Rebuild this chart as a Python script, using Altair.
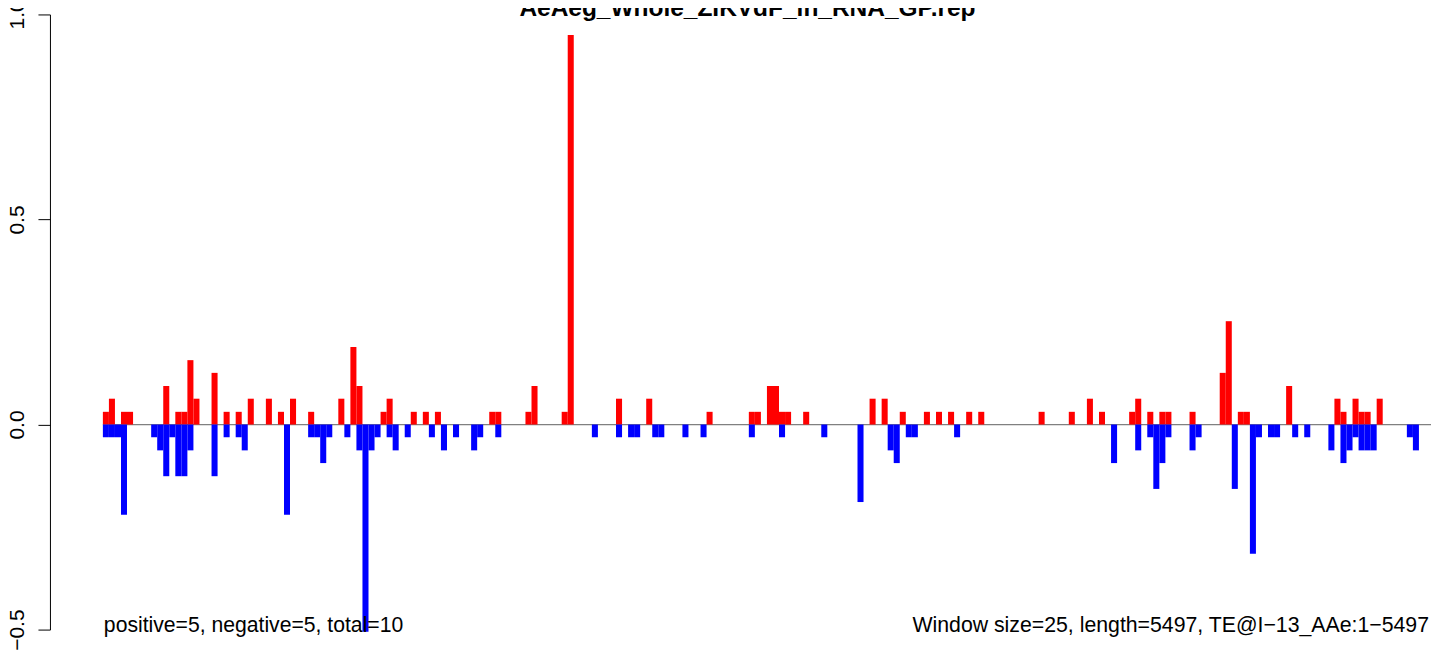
import altair as alt
import pandas as pd

title_text = "AeAeg_Whole_ZIKVdF_in_RNA_GP.rep"
left_note = "positive=5, negative=5, total=10"
right_note = "Window size=25, length=5497, TE@I\u221213_AAe:1\u22125497"
n_windows = 220
y_ticks = [-0.5, 0.0, 0.5, 1.0]

pos_idx = [0, 1, 3, 4, 10, 12, 13, 14, 15, 18, 20, 22, 24, 27, 29, 31, 34, 39, 41, 42,
           46, 47, 51, 53, 55, 64, 65, 70, 71, 76, 77, 85, 90, 100, 107, 108, 110, 111, 112, 113,
           116, 127, 129, 132, 136, 138, 140, 143, 145, 155, 160, 163, 165, 170, 171, 173, 175, 176, 180, 185,
           186, 188, 189, 196, 204, 205, 207, 208, 209, 211]
pos_val = [0.031, 0.063, 0.031, 0.031, 0.094, 0.031, 0.031, 0.157, 0.063, 0.126,
           0.031, 0.031, 0.063, 0.063, 0.031, 0.063, 0.031, 0.063, 0.189, 0.094,
           0.031, 0.063, 0.031, 0.031, 0.031, 0.031, 0.031, 0.031, 0.094, 0.031,
           0.95, 0.063, 0.063, 0.031, 0.031, 0.031, 0.094, 0.094, 0.031, 0.031,
           0.031, 0.063, 0.063, 0.031, 0.031, 0.031, 0.031, 0.031, 0.031, 0.031,
           0.031, 0.063, 0.031, 0.031, 0.063, 0.031, 0.031, 0.031, 0.031, 0.126,
           0.252, 0.031, 0.031, 0.094, 0.063, 0.031, 0.063, 0.031, 0.031, 0.063]

neg_idx = [0, 1, 2, 3, 8, 9, 10, 11, 12, 13, 14, 18, 20, 22, 23, 30, 34, 35, 36, 37,
           40, 42, 43, 44, 45, 47, 48, 50, 54, 56, 58, 61, 62, 65, 81, 85, 87, 88, 91, 92,
           96, 99, 107, 112, 119, 125, 130, 131, 133, 134, 141, 167, 171, 173, 174, 175, 176, 180, 181, 187,
           190, 191, 193, 194, 197, 199, 203, 205, 206, 207, 208, 209, 210, 216, 217]
neg_val = [-0.031, -0.031, -0.031, -0.220, -0.031, -0.063, -0.126, -0.031, -0.126, -0.126,
           -0.063, -0.126, -0.031, -0.031, -0.063, -0.220, -0.031, -0.031, -0.094, -0.031,
           -0.031, -0.063, -0.505, -0.063, -0.031, -0.031, -0.063, -0.031, -0.031, -0.063,
           -0.031, -0.063, -0.031, -0.031, -0.031, -0.031, -0.031, -0.031, -0.031, -0.031,
           -0.031, -0.031, -0.031, -0.031, -0.031, -0.189, -0.063, -0.094, -0.031, -0.031,
           -0.031, -0.094, -0.063, -0.031, -0.157, -0.094, -0.031, -0.063, -0.031, -0.157,
           -0.315, -0.031, -0.031, -0.031, -0.031, -0.031, -0.063, -0.094, -0.063, -0.031,
           -0.063, -0.063, -0.063, -0.031, -0.063]

bars = pd.DataFrame({
    "start": pos_idx + neg_idx,
    "end": [i + 1 for i in pos_idx + neg_idx],
    "value": pos_val + neg_val,
    "base": 0.0,
    "strand": ["pos"] * len(pos_idx) + ["neg"] * len(neg_idx),
})
zero_df = pd.DataFrame({"start": [0], "end": [n_windows], "value": [0.0]})

FONT = "Liberation Sans"
W, H = 1383, 616

x_scale = alt.Scale(domain=[-8.768, n_windows], nice=False, zero=False)
y_scale = alt.Scale(domain=[-0.5, 1.0], nice=False, zero=False)
y_axis = alt.Axis(values=y_ticks, format=".1f", title=None, grid=False,
                  labelAngle=270, labelAlign="center", labelBaseline="alphabetic",
                  labelPadding=14, tickSize=12, tickColor="black", tickWidth=1,
                  domainColor="black", domainWidth=1, labelColor="black",
                  labelFont=FONT, labelFontSize=21, labelFlush=False,
                  labelOverlap=False)

zero_line = alt.Chart(zero_df).mark_rule(color="#808080", strokeWidth=1.2).encode(
    x=alt.X("start:Q", scale=x_scale, axis=None),
    x2="end:Q",
    y=alt.Y("value:Q", scale=y_scale, axis=y_axis),
)

bar_layer = alt.Chart(bars).mark_rect().encode(
    x=alt.X("start:Q", scale=x_scale, axis=None),
    x2="end:Q",
    y=alt.Y("value:Q", scale=y_scale, axis=y_axis),
    y2="base:Q",
    color=alt.Color("strand:N", scale=alt.Scale(domain=["pos", "neg"], range=["#FF0000", "#0000FF"]), legend=None),
)

title_layer = alt.Chart(pd.DataFrame({"label": [title_text]})).mark_text(
    font=FONT, fontSize=24.5, fontWeight="bold", align="center", baseline="alphabetic", color="black"
).encode(x=alt.value(698.5), y=alt.value(1.5), text="label:N")

left_layer = alt.Chart(pd.DataFrame({"label": [left_note]})).mark_text(
    font=FONT, fontSize=21.2, align="left", baseline="alphabetic", color="black"
).encode(x=alt.value(54), y=alt.value(618), text="label:N")

right_layer = alt.Chart(pd.DataFrame({"label": [right_note]})).mark_text(
    font=FONT, fontSize=21.3, align="right", baseline="alphabetic", color="black"
).encode(x=alt.value(1381), y=alt.value(618), text="label:N")

chart = alt.layer(zero_line, bar_layer, title_layer, left_layer, right_layer).properties(
    width=W, height=H,
    autosize=alt.AutoSizeParams(type="none"),
    padding={"left": 42, "top": 6, "right": 5, "bottom": 22},
    background="white",
).configure_view(stroke=None)

chart.save("out.html", embed_options={"renderer": "svg", "actions": False})
